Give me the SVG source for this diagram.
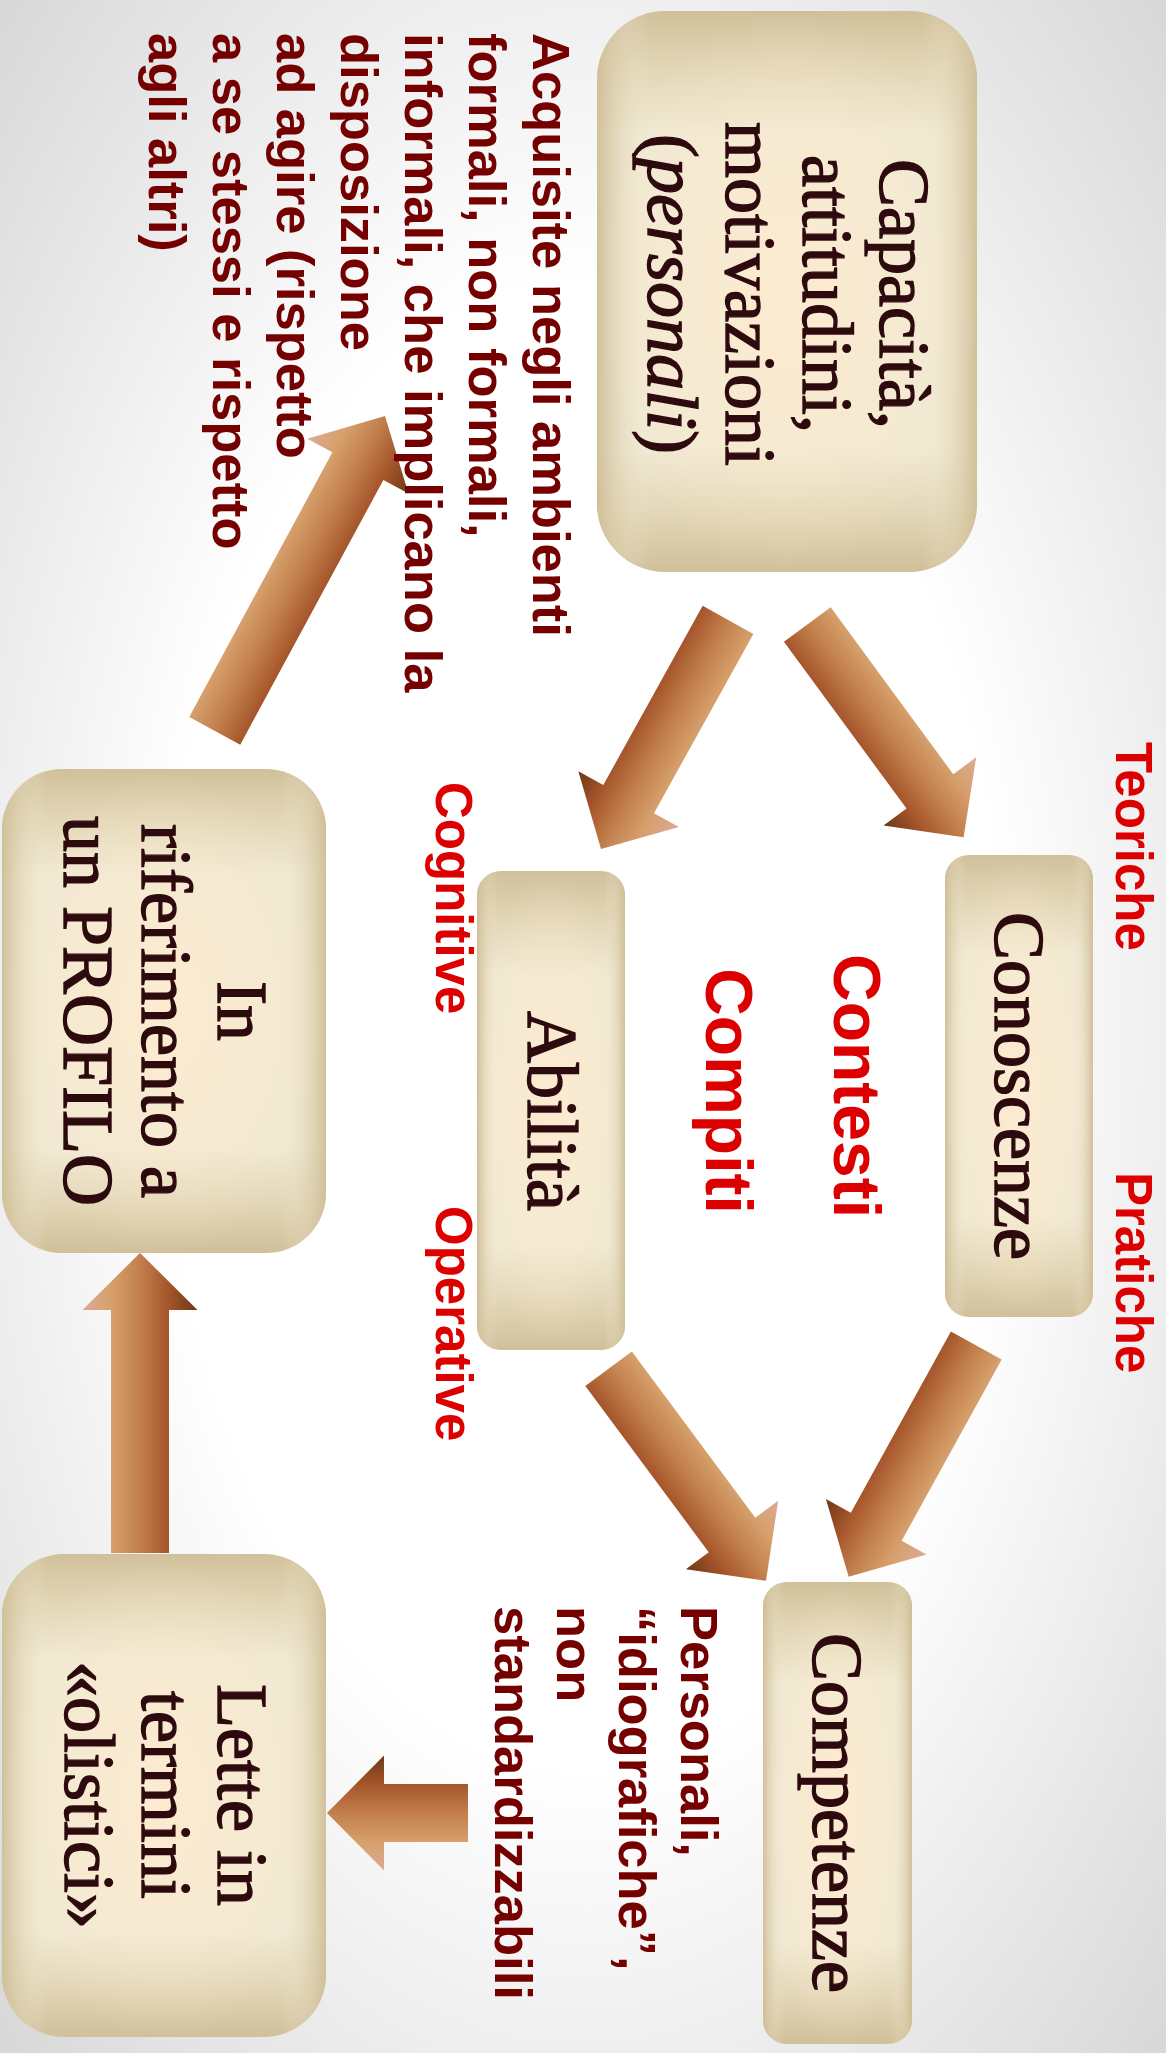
<svg xmlns="http://www.w3.org/2000/svg" width="1166" height="2053" viewBox="0 0 1166 2053">
<defs>
<radialGradient id="bg" cx="0.5" cy="0.5" r="0.72">
<stop offset="0" stop-color="#ffffff"/>
<stop offset="0.5" stop-color="#ffffff"/>
<stop offset="1" stop-color="#d6d6d6"/>
</radialGradient>
<linearGradient id="bv" x1="0" y1="0" x2="0" y2="1">
<stop offset="0" stop-color="#d0c09a"/>
<stop offset="0.1" stop-color="#e2d6b6"/>
<stop offset="0.22" stop-color="#f1e9d3"/>
<stop offset="0.78" stop-color="#f1e9d3"/>
<stop offset="0.9" stop-color="#e2d6b6"/>
<stop offset="1" stop-color="#d0c09a"/>
</linearGradient>
<linearGradient id="bh" x1="0" y1="0" x2="1" y2="0">
<stop offset="0" stop-color="#cdbc94" stop-opacity="0.9"/>
<stop offset="0.06" stop-color="#dccfae" stop-opacity="0.5"/>
<stop offset="0.14" stop-color="#f1e9d3" stop-opacity="0"/>
<stop offset="0.86" stop-color="#f1e9d3" stop-opacity="0"/>
<stop offset="0.94" stop-color="#dccfae" stop-opacity="0.5"/>
<stop offset="1" stop-color="#cdbc94" stop-opacity="0.9"/>
</linearGradient>
<radialGradient id="glow" cx="0.5" cy="0.5" r="0.5">
<stop offset="0" stop-color="#fdebcf" stop-opacity="0.9"/>
<stop offset="1" stop-color="#fdebcf" stop-opacity="0"/>
</radialGradient>
<linearGradient id="ag" x1="0" y1="0" x2="1" y2="0">
<stop offset="0" stop-color="#dbab95"/>
<stop offset="0.25" stop-color="#d6a06c"/>
<stop offset="0.5" stop-color="#c27f4c"/>
<stop offset="0.75" stop-color="#a5552a"/>
<stop offset="1" stop-color="#6c3817"/>
</linearGradient>
<style>
.bt{font-family:"Liberation Serif","Times New Roman",serif;font-size:72px;fill:#2d0a0e;stroke:#2d0a0e;stroke-width:1.4px;text-anchor:middle}
.lb{font-family:"Liberation Sans",Arial,sans-serif;font-weight:bold;font-size:52.5px;fill:#740000}
.rd{font-family:"Liberation Sans",Arial,sans-serif;font-weight:bold;font-size:51px;fill:#dd0000}
.big{font-size:66px;text-anchor:middle}
.arr{fill:url(#ag)}
</style>
</defs>
<rect x="0" y="0" width="1166" height="2053" fill="url(#bg)"/>

<g id="connectors">
<polygon class="arr" transform="translate(601,849) rotate(209)" points="0,0 57.5,57 29,57 29,262 -29,262 -29,57 -57.5,57"/>
<polygon class="arr" transform="translate(963.6,837.3) rotate(143.7)" points="0,0 57.5,57 29,57 29,264 -29,264 -29,57 -57.5,57"/>
<polygon class="arr" transform="translate(848.7,1576.7) rotate(208.9)" points="0,0 57.5,57 29,57 29,264 -29,264 -29,57 -57.5,57"/>
<polygon class="arr" transform="translate(766,1580.7) rotate(143.4)" points="0,0 57.5,57 29,57 29,264 -29,264 -29,57 -57.5,57"/>
<polygon class="arr" transform="translate(327,1813) rotate(-90)" points="0,0 57.5,57 29,57 29,141 -29,141 -29,57 -57.5,57"/>
<polygon class="arr" transform="translate(140,1253)" points="0,0 57.5,57 29,57 29,300 -29,300 -29,57 -57.5,57"/>
<polygon class="arr" transform="translate(385,416) rotate(28.4)" points="0,0 57.5,57 29,57 29,358 -29,358 -29,57 -57.5,57"/>
</g>

<g id="node-capacita">
<rect x="597" y="11" width="380" height="561" rx="68" fill="url(#bv)"/>
<rect x="597" y="11" width="380" height="561" rx="68" fill="url(#bh)"/>
<rect x="597" y="11" width="380" height="561" rx="68" fill="url(#glow)"/>
<text class="bt" transform="translate(880,294) rotate(90)">Capacità,</text>
<text class="bt" transform="translate(803,294) rotate(90)">attitudini,</text>
<text class="bt" transform="translate(726,294) rotate(90)">motivazioni</text>
<text class="bt" transform="translate(648,294) rotate(90)">(<tspan font-style="italic">personali</tspan>)</text>
</g>

<g id="node-conoscenze">
<rect x="945" y="855" width="148" height="462" rx="24" fill="url(#bv)"/>
<rect x="945" y="855" width="148" height="462" rx="24" fill="url(#bh)"/>
<rect x="945" y="855" width="148" height="462" rx="24" fill="url(#glow)"/>
<text class="bt" transform="translate(995,1086) rotate(90)">Conoscenze</text>
</g>

<g id="node-abilita">
<rect x="477" y="871" width="148" height="479" rx="24" fill="url(#bv)"/>
<rect x="477" y="871" width="148" height="479" rx="24" fill="url(#bh)"/>
<rect x="477" y="871" width="148" height="479" rx="24" fill="url(#glow)"/>
<text class="bt" transform="translate(528,1111) rotate(90)">Abilità</text>
</g>

<g id="node-competenze">
<rect x="763" y="1582" width="149" height="462" rx="24" fill="url(#bv)"/>
<rect x="763" y="1582" width="149" height="462" rx="24" fill="url(#bh)"/>
<rect x="763" y="1582" width="149" height="462" rx="24" fill="url(#glow)"/>
<text class="bt" transform="translate(813,1813) rotate(90)">Competenze</text>
</g>

<g id="node-profilo">
<rect x="2" y="769" width="324" height="484" rx="60" fill="url(#bv)"/>
<rect x="2" y="769" width="324" height="484" rx="60" fill="url(#bh)"/>
<rect x="2" y="769" width="324" height="484" rx="60" fill="url(#glow)"/>
<text class="bt" transform="translate(218,1011) rotate(90)">In</text>
<text class="bt" transform="translate(142,1011) rotate(90)">riferimento a</text>
<text class="bt" transform="translate(64,1011) rotate(90)">un PROFILO</text>
</g>

<g id="node-lette">
<rect x="2" y="1554" width="324" height="483" rx="62" fill="url(#bv)"/>
<rect x="2" y="1554" width="324" height="483" rx="62" fill="url(#bh)"/>
<rect x="2" y="1554" width="324" height="483" rx="62" fill="url(#glow)"/>
<text class="bt" transform="translate(218,1795) rotate(90)">Lette in</text>
<text class="bt" transform="translate(142,1795) rotate(90)">termini</text>
<text class="bt" transform="translate(65,1795) rotate(90)">«olistici»</text>
</g>

<g id="labels">
<text class="lb" transform="translate(533,33) rotate(90)">Acquisite negli ambienti</text>
<text class="lb" transform="translate(469,33) rotate(90)">formali, non formali,</text>
<text class="lb" transform="translate(405,33) rotate(90)">informali, che implicano la</text>
<text class="lb" transform="translate(341,33) rotate(90)">disposizione</text>
<text class="lb" transform="translate(277,33) rotate(90)">ad agire (rispetto</text>
<text class="lb" transform="translate(213,33) rotate(90)">a se stessi e rispetto</text>
<text class="lb" transform="translate(149,33) rotate(90)">agli altri)</text>

<text class="lb" transform="translate(681,1606) rotate(90)">Personali,</text>
<text class="lb" transform="translate(619,1606) rotate(90)">“idiografiche”,</text>
<text class="lb" transform="translate(557,1606) rotate(90)">non</text>
<text class="lb" transform="translate(495,1606) rotate(90)">standardizzabili</text>

<text class="rd" transform="translate(1116,742) rotate(90)">Teoriche</text>
<text class="rd" transform="translate(1116,1172) rotate(90)">Pratiche</text>
<text class="rd" transform="translate(436,782) rotate(90)">Cognitive</text>
<text class="rd" transform="translate(436,1206) rotate(90)">Operative</text>
<text class="rd big" transform="translate(834,1086) rotate(90)">Contesti</text>
<text class="rd big" transform="translate(706,1091) rotate(90)">Compiti</text>
</g>
</svg>
